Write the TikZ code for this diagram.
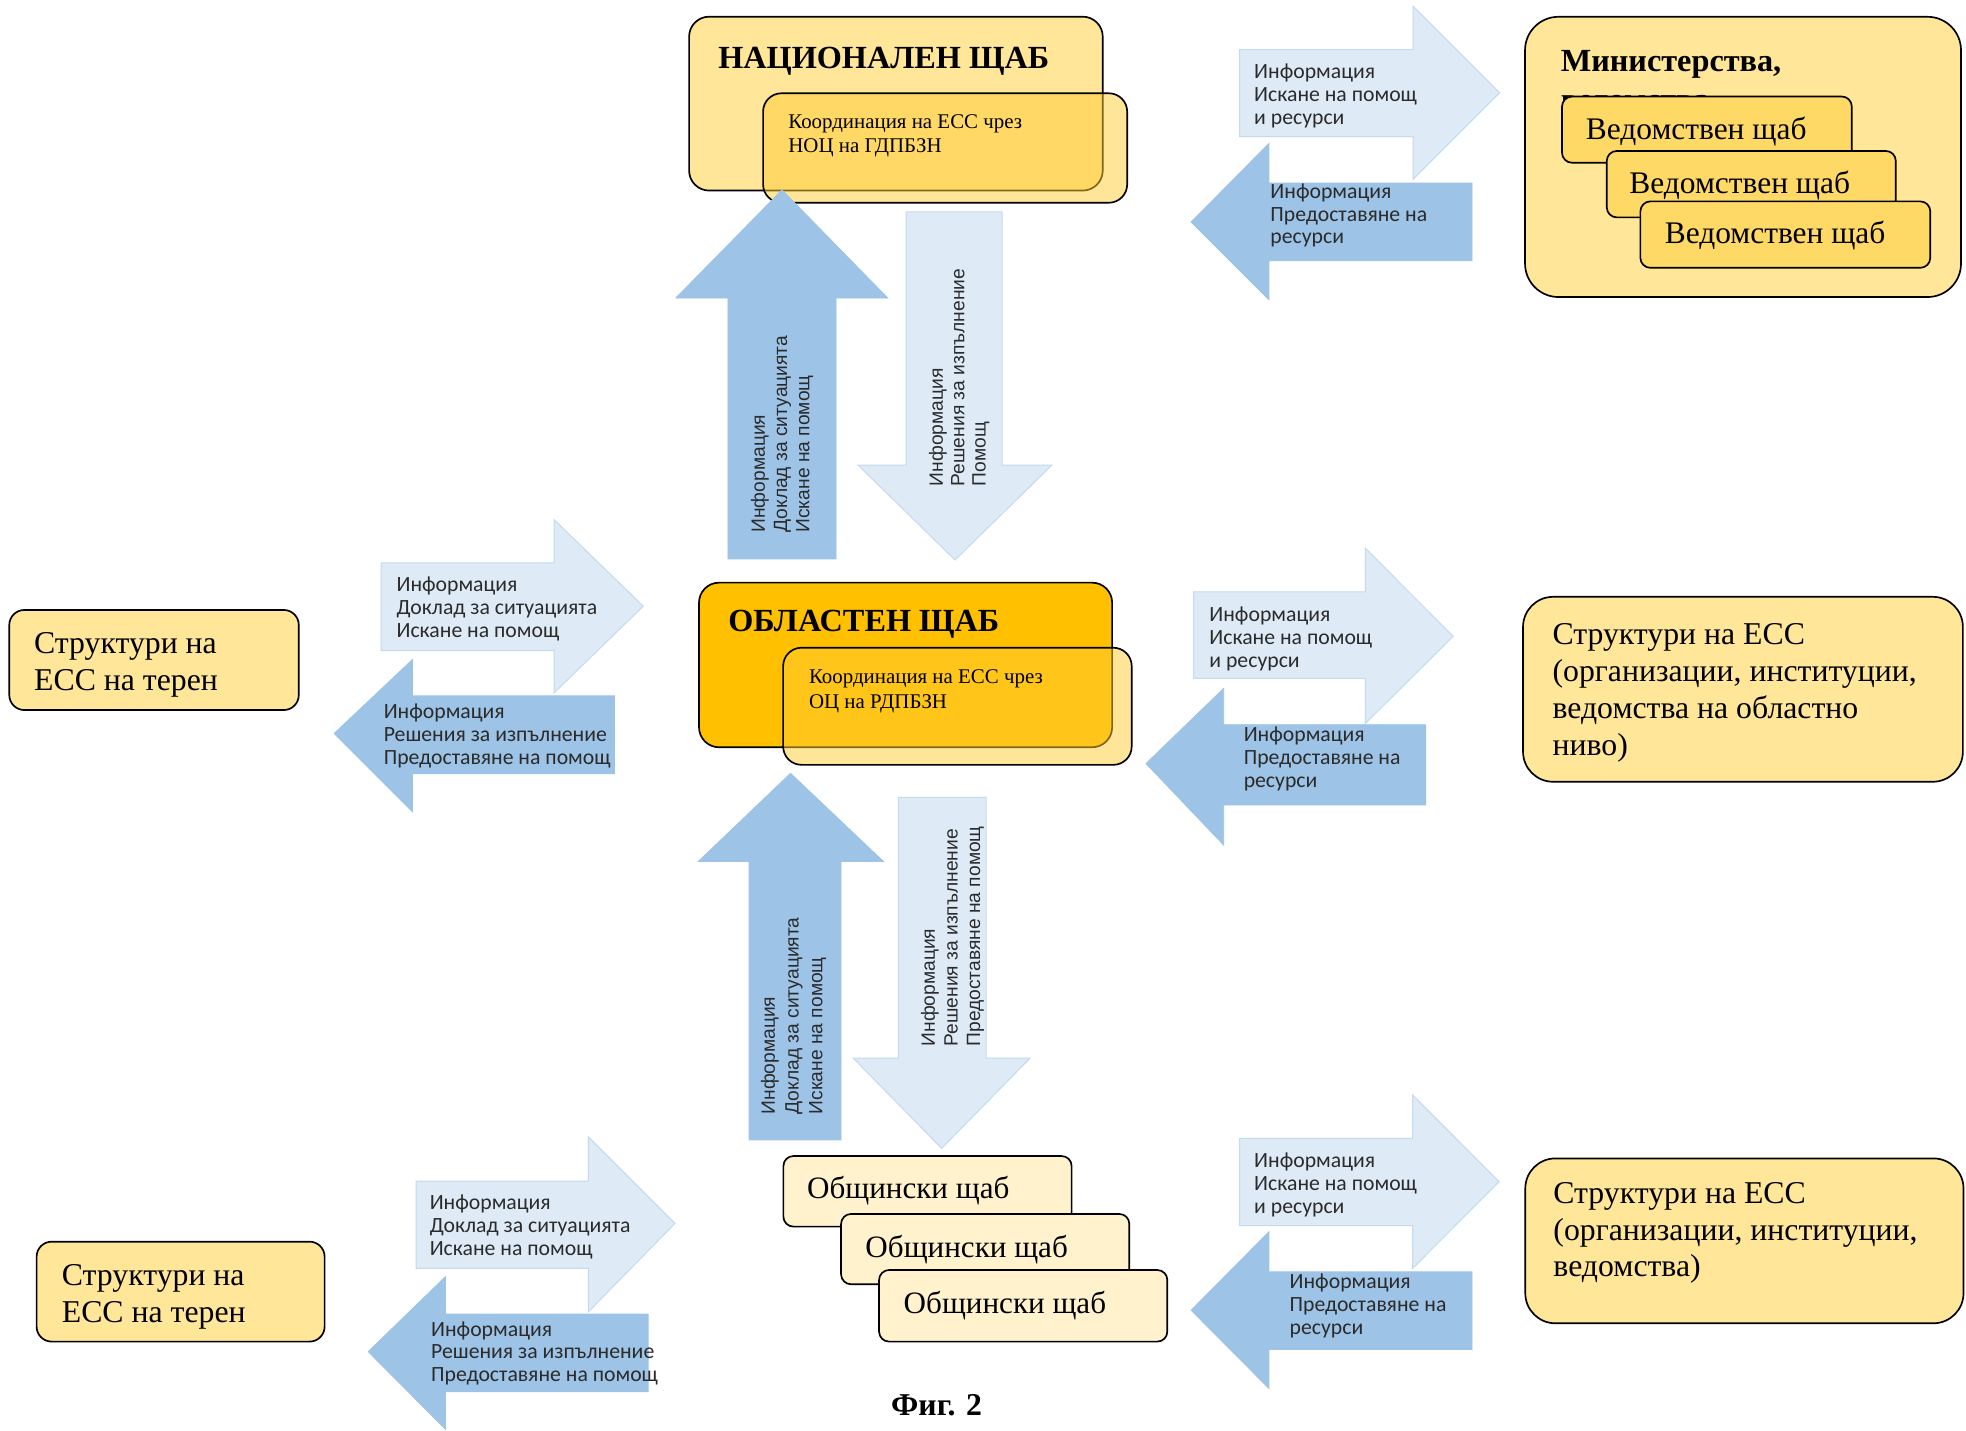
\documentclass[tikz,border=0pt]{standalone}
\usepackage{fontspec}
\setmainfont{Liberation Serif}
\newfontfamily\calfont{Carlito}
\newfontfamily\arfont{Liberation Sans}
\newcommand\mlines[1]{\begin{tabular}[t]{@{}l@{}}#1\end{tabular}}
\definecolor{ylight}{HTML}{FFE699}
\definecolor{ymid}{HTML}{FFD966}
\definecolor{ypale}{HTML}{FFF2CC}
\definecolor{yorange}{HTML}{FFC000}
\definecolor{yover}{HTML}{FFCC33}
\definecolor{bdark}{HTML}{9DC3E6}
\definecolor{blight}{HTML}{DEEBF7}
\definecolor{bline}{HTML}{C3DAEF}
\definecolor{atext}{HTML}{2B2B2B}
\begin{document}
\begin{tikzpicture}[x=0.75pt,y=-0.75pt,
  box/.style={draw=black, line width=1pt},
  lbl/.style={inner sep=0pt, anchor=base west},
  boxtext/.style={lbl, font=\fontsize{19}{22}\selectfont},
  titletext/.style={lbl, font=\bfseries\fontsize{19.3}{21}\selectfont},
  smalltext/.style={lbl, font=\fontsize{12.5}{14.7}\selectfont},
  stafftext/.style={lbl, font=\fontsize{18.8}{20}\selectfont},
  muntext/.style={lbl, font=\fontsize{18.6}{20}\selectfont},
  arrtext/.style={lbl, text=atext, font=\calfont\fontsize{13}{13.7}\selectfont},
  vtext/.style={lbl, rotate=90, text=atext},
  darkarrow/.style={fill=bdark, draw=bdark, line width=0.5pt},
  lightarrow/.style={fill=blight, draw=bline, line width=0.6pt},
]
\useasboundingbox (0,0) rectangle (1568,1141);
\fill[white] (0,0) rectangle (1568,1141);

% ---------- National HQ ----------
\draw[box, fill=ylight, rounded corners=12pt] (549.6,13.3) rectangle (879.5,152);
\draw[box, fill=yover, fill opacity=0.5, rounded corners=11pt] (608.6,74.4) rectangle (899,161.7);
\node[titletext] (natT) at (572.6,54.4) {НАЦИОНАЛЕН ЩАБ};
\node[smalltext] (natC) at (628.5,102.4) {\mlines{Координация на ЕСС чрез\\НОЦ на ГДПБЗН}};

% ---------- Regional HQ ----------
\draw[box, fill=yorange, rounded corners=12pt] (557.5,464.7) rectangle (887,596);
\draw[box, fill=yover, fill opacity=0.5, rounded corners=11pt] (624.6,516.6) rectangle (902.6,610);
\node[titletext] (regT) at (580.6,503.3) {ОБЛАСТЕН ЩАБ};
\node[smalltext] (regC) at (645,545.5) {\mlines{Координация на ЕСС чрез\\ОЦ на РДПБЗН}};

% ---------- Ministries ----------
\draw[box, fill=ylight, rounded corners=20pt] (1216.3,13.4) rectangle (1564,236.9);
\node[titletext, font=\bfseries\fontsize{19.3}{23.5}\selectfont] (minT) at (1244.6,56.7) {\mlines{Министерства,\\ведомства}};
\draw[box, fill=ymid, rounded corners=6pt] (1245.8,77) rectangle (1476.9,129.8);
\node[stafftext] (ved1) at (1264.6,111.1) {Ведомствен щаб};
\draw[box, fill=ymid, rounded corners=6pt] (1281.5,120.4) rectangle (1512,173.4);
\node[stafftext] (ved2) at (1299.3,154.7) {Ведомствен щаб};
\draw[box, fill=ymid, rounded corners=6pt] (1308.3,160.6) rectangle (1539.5,213.6);
\node[stafftext] (ved3) at (1327.5,194.6) {Ведомствен щаб};

% ---------- Field structures ----------
\draw[box, fill=ylight, rounded corners=9pt] (7.4,486.5) rectangle (238.3,566.3);
\node[boxtext] (field1) at (27,521) {\mlines{Структури на\\ЕСС на терен}};
\draw[box, fill=ylight, rounded corners=9pt] (29.2,990.3) rectangle (258.9,1070);
\node[boxtext] (field2) at (49.1,1025.4) {\mlines{Структури на\\ЕСС на терен}};

% ---------- Right structures ----------
\draw[box, fill=ylight, rounded corners=18pt] (1214.7,476) rectangle (1565.5,623.5);
\node[boxtext] (ess1) at (1238,514.4) {\mlines{Структури на ЕСС\\(организации, институции,\\ведомства на областно\\ниво)}};
\draw[box, fill=ylight, rounded corners=18pt] (1216.5,923.9) rectangle (1566,1055.4);
\node[boxtext] (ess2) at (1238.7,959.7) {\mlines{Структури на ЕСС\\(организации, институции,\\ведомства)}};

% ---------- Municipal HQs ----------
\draw[box, fill=ypale, rounded corners=6pt] (624.8,922) rectangle (854.7,978.3);
\node[muntext] (mun1) at (643.4,955.7) {Общински щаб};
\draw[box, fill=ypale, rounded corners=6pt] (670.8,968.2) rectangle (900.7,1024.3);
\node[muntext] (mun2) at (690,1002.8) {Общински щаб};
\draw[box, fill=ypale, rounded corners=6pt] (701.1,1012.9) rectangle (931,1070);
\node[muntext] (mun3) at (720.5,1047.5) {Общински щаб};

% ---------- Vertical arrows ----------
\draw[darkarrow] (580.6,445.8) -- (580.6,237.7) -- (539,237.7) -- (623.7,151.5) -- (708,237.7) -- (666.8,237.7) -- (666.8,445.8) -- cycle;
\draw[lightarrow] (722.6,169) -- (799.2,169) -- (799.2,370.9) -- (839,370.9) -- (761.7,446.6) -- (684.3,370.9) -- (722.6,370.9) -- cycle;
\draw[darkarrow] (597.4,909.2) -- (597.4,687) -- (557,687) -- (630.5,616.8) -- (704.5,687) -- (670.8,687) -- (670.8,909.2) -- cycle;
\draw[lightarrow] (716.5,636) -- (786.4,636) -- (786.4,844) -- (821.5,844) -- (751,915.9) -- (680.6,844) -- (716.5,844) -- cycle;

\node[vtext, font=\arfont\fontsize{11.5}{13.3}\selectfont] (upT) at (610,425) {\mlines{Информация\\Доклад за ситуацията\\Искане на помощ}};
\node[vtext, font=\arfont\fontsize{11.5}{12.8}\selectfont] (dnT) at (752,388) {\mlines{Информация\\Решения за изпълнение\\Помощ}};
\node[vtext, font=\arfont\fontsize{11.5}{14.2}\selectfont] (upB) at (618,889) {\mlines{Информация\\Доклад за ситуацията\\Искане на помощ}};
\node[vtext, font=\arfont\fontsize{11.5}{13.5}\selectfont] (dnB) at (745.7,834.8) {\mlines{Информация\\Решения за изпълнение\\Предоставяне на помощ}};

% ---------- Horizontal arrow pairs ----------
% top right
\draw[lightarrow] (988.6,39.5) -- (1127,39.5) -- (1127,5) -- (1196,74) -- (1127,143) -- (1127,109) -- (988.6,109) -- cycle;
\draw[darkarrow] (1174,146) -- (1012,146) -- (1012,114.5) -- (950,177) -- (1012,239) -- (1012,208) -- (1174,208) -- cycle;
\node[arrtext] (trL) at (1000,63) {\mlines{Информация\\Искане на помощ\\и ресурси}};
\node[arrtext] (trD) at (1013,158) {\mlines{Информация\\Предоставяне на\\ресурси}};
% middle left
\draw[lightarrow] (304,449) -- (442,449) -- (442,414.5) -- (513,483.5) -- (442,552.5) -- (442,519) -- (304,519) -- cycle;
\draw[darkarrow] (490,555) -- (329,555) -- (329,526) -- (266.5,585) -- (329,647.5) -- (329,617) -- (490,617) -- cycle;
\node[arrtext] (mlL) at (316,472) {\mlines{Информация\\Доклад за ситуацията\\Искане на помощ}};
\node[arrtext] (mlD) at (305.8,573) {\mlines{Информация\\Решения за изпълнение\\Предоставяне на помощ}};
% middle right
\draw[lightarrow] (952,472) -- (1089,472) -- (1089,437.3) -- (1159,507.5) -- (1089,577) -- (1089,541) -- (952,541) -- cycle;
\draw[darkarrow] (1137,578) -- (976,578) -- (976,549) -- (914,609) -- (976,674) -- (976,642) -- (1137,642) -- cycle;
\node[arrtext] (mrL) at (964.3,495.8) {\mlines{Информация\\Искане на помощ\\и ресурси}};
\node[arrtext] (mrD) at (991.7,591.5) {\mlines{Информация\\Предоставяне на\\ресурси}};
% bottom right
\draw[lightarrow] (988.6,908) -- (1126.7,908) -- (1126.7,873.3) -- (1195.6,942.5) -- (1126.7,1011.6) -- (1126.7,977.6) -- (988.6,977.6) -- cycle;
\draw[darkarrow] (1174,1014.3) -- (1012,1014.3) -- (1012,982.4) -- (950,1045) -- (1012,1107.3) -- (1012,1076.2) -- (1174,1076.2) -- cycle;
\node[arrtext] (brL) at (1000,931) {\mlines{Информация\\Искане на помощ\\и ресурси}};
\node[arrtext] (brD) at (1028.3,1027.5) {\mlines{Информация\\Предоставяне на\\ресурси}};
% bottom left
\draw[lightarrow] (331.8,942) -- (469.3,942) -- (469.3,906.6) -- (538.4,975.7) -- (469.3,1046.2) -- (469.3,1011.6) -- (331.8,1011.6) -- cycle;
\draw[darkarrow] (517,1048) -- (355.3,1048) -- (355.3,1018.2) -- (293.7,1078) -- (355.3,1140) -- (355.3,1110) -- (517,1110) -- cycle;
\node[arrtext] (blL) at (342.5,964.5) {\mlines{Информация\\Доклад за ситуацията\\Искане на помощ}};
\node[arrtext] (blD) at (343.6,1065.6) {\mlines{Информация\\Решения за изпълнение\\Предоставяне на помощ}};

% ---------- Caption ----------
\node[font=\bfseries\fontsize{19}{21}\selectfont, anchor=base, inner sep=0pt] (fig) at (747,1128.6) {Фиг. 2};
\end{tikzpicture}
\end{document}
